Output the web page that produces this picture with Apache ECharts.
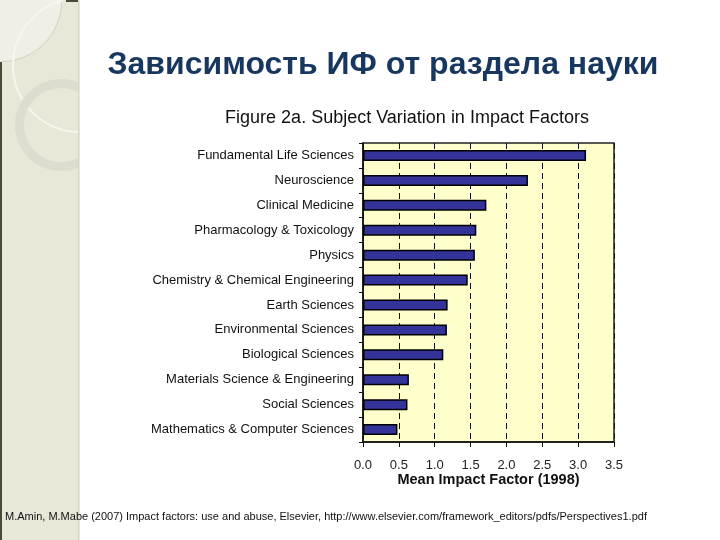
<!DOCTYPE html>
<html>
<head>
<meta charset="utf-8">
<script src="https://cdn.jsdelivr.net/npm/echarts@6/dist/echarts.min.js"></script>
<style>html,body{margin:0;padding:0;background:#fff;}#c{width:720px;height:540px;}</style>
</head>
<body>
<div id="c"></div>
<script>
var categories = [
  'Fundamental Life Sciences',
  'Neuroscience',
  'Clinical Medicine',
  'Pharmacology & Toxicology',
  'Physics',
  'Chemistry & Chemical Engineering',
  'Earth Sciences',
  'Environmental Sciences',
  'Biological Sciences',
  'Materials Science & Engineering',
  'Social Sciences',
  'Mathematics & Computer Sciences'
];
var meanImpact = [3.11, 2.30, 1.72, 1.58, 1.56, 1.46, 1.18, 1.17, 1.12, 0.64, 0.62, 0.48];
var xTicks = [0, 0.5, 1.0, 1.5, 2.0, 2.5, 3.0, 3.5];

var slideTitle = 'Зависимость ИФ от раздела науки';
var chartTitle = 'Figure 2a. Subject Variation in Impact Factors';
var axisName = 'Mean Impact Factor (1998)';
var footer = 'M.Amin, M.Mabe (2007) Impact factors: use and abuse, Elsevier, http://www.elsevier.com/framework_editors/pdfs/Perspectives1.pdf';

var chart = echarts.init(document.getElementById('c'), null, {renderer: 'canvas'});
var font = '"Liberation Sans", Arial, sans-serif';

chart.setOption({
  backgroundColor: '#ffffff',
  animation: false,
  graphic: [
    {type: 'rect', z: 0, shape: {x: 0, y: 0, width: 79, height: 540}, style: {fill: '#E9E7D8'}},
    {type: 'circle', z: 1, shape: {cx: 0, cy: 0, r: 62}, style: {fill: '#F0EFE6', stroke: '#D3D1C2', lineWidth: 1}},
    {type: 'arc', z: 2, shape: {cx: 80, cy: 65, r: 67, startAngle: Math.PI * 0.505, endAngle: Math.PI * 1.418, clockwise: true}, style: {stroke: '#F7F6EE', lineWidth: 2, fill: null}},
    {type: 'ring', z: 2, shape: {cx: 61, cy: 125, r: 46, r0: 37}, style: {fill: '#DEDCCE'}},
    {type: 'rect', z: 3, shape: {x: 79, y: 60, width: 40, height: 130}, style: {fill: '#ffffff'}},
    {type: 'rect', z: 3, shape: {x: 78, y: 0, width: 1.5, height: 540}, style: {fill: '#D6D4C4'}},
    {type: 'rect', z: 3, shape: {x: 0, y: 62, width: 2, height: 478}, style: {fill: '#4A4A38'}},
    {type: 'rect', z: 3, shape: {x: 66, y: 0, width: 12, height: 2}, style: {fill: '#4A4A38'}},
    {type: 'text', z: 5, left: 5, top: 511, style: {text: footer, fill: '#111', font: '11px ' + font}}
  ],
  title: [
    {text: slideTitle, left: 378, top: 44, textAlign: 'center',
     textStyle: {fontFamily: font, fontSize: 32, fontWeight: 'bold', color: '#17375E'}},
    {text: chartTitle, left: 402, top: 104, textAlign: 'center',
     textStyle: {fontFamily: font, fontSize: 18, fontWeight: 'normal', color: '#111'}}
  ],
  grid: {
    left: 363, right: 106, top: 143, bottom: 98,
    show: true, backgroundColor: '#FFFFCC', borderColor: '#222', borderWidth: 1.5,
    containLabel: false
  },
  xAxis: {
    type: 'value', min: 0, max: 3.5, interval: 0.5,
    name: axisName, nameLocation: 'middle', nameGap: 30, nameMoveOverlap: false,
    nameTextStyle: {fontFamily: font, fontSize: 14.5, fontWeight: 'bold', color: '#111'},
    axisLine: {show: true, lineStyle: {color: '#111', width: 1.5}},
    axisTick: {show: true, length: 5, lineStyle: {color: '#111'}},
    axisLabel: {fontFamily: font, fontSize: 13, color: '#222', margin: 17,
      formatter: function (v) { return v.toFixed(1); }},
    splitLine: {show: true, lineStyle: {color: '#111', type: [6, 4], width: 1}}
  },
  yAxis: {
    type: 'category', data: categories, inverse: true,
    axisLine: {show: true, lineStyle: {color: '#111', width: 1.5}},
    axisTick: {show: true, length: 4, lineStyle: {color: '#111'}},
    axisLabel: {fontFamily: font, fontSize: 13, color: '#111', margin: 9},
    splitLine: {show: false}
  },
  series: [{
    type: 'bar', data: meanImpact, barWidth: 11,
    itemStyle: {color: '#333399', borderColor: '#000', borderWidth: 1.5}
  }]
});
</script>
</body>
</html>
